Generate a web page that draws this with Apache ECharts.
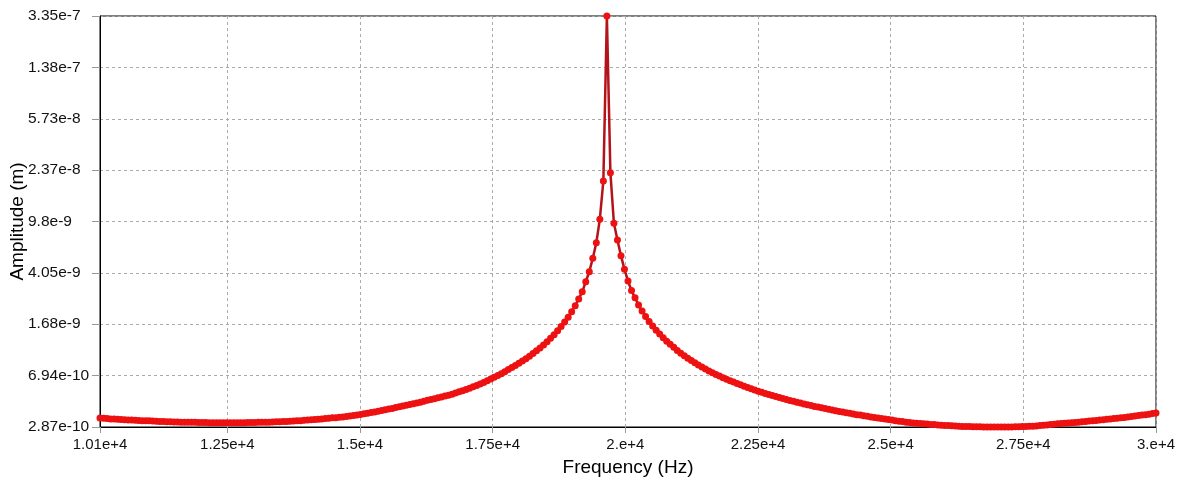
<!DOCTYPE html>
<html><head><meta charset="utf-8">
<script src="https://cdn.jsdelivr.net/npm/echarts@6/dist/echarts.min.js"></script>
<style>html,body{margin:0;padding:0;background:#fff}#c{width:1179px;height:484px}</style>
</head><body><div id="c"></div>
<script>
// Frequency sweep: 301 samples from freqStart to freqEnd
const freqStart = 10100;
const freqEnd = 30000;
// Amplitude (m), one value per sample
const amplitude = [
3.35e-10,3.33e-10,3.32e-10,3.30e-10,3.29e-10,3.28e-10,3.26e-10,3.25e-10,3.24e-10,3.23e-10,
3.22e-10,3.21e-10,3.20e-10,3.19e-10,3.19e-10,3.18e-10,3.17e-10,3.16e-10,3.15e-10,3.14e-10,
3.14e-10,3.13e-10,3.13e-10,3.12e-10,3.12e-10,3.11e-10,3.11e-10,3.11e-10,3.10e-10,3.10e-10,
3.10e-10,3.09e-10,3.09e-10,3.09e-10,3.09e-10,3.09e-10,3.09e-10,3.09e-10,3.09e-10,3.09e-10,
3.09e-10,3.09e-10,3.10e-10,3.10e-10,3.10e-10,3.11e-10,3.11e-10,3.12e-10,3.12e-10,3.13e-10,
3.14e-10,3.14e-10,3.15e-10,3.16e-10,3.17e-10,3.18e-10,3.19e-10,3.20e-10,3.22e-10,3.23e-10,
3.25e-10,3.27e-10,3.28e-10,3.30e-10,3.32e-10,3.33e-10,3.36e-10,3.37e-10,3.40e-10,3.41e-10,
3.44e-10,3.47e-10,3.50e-10,3.53e-10,3.56e-10,3.60e-10,3.64e-10,3.68e-10,3.72e-10,3.77e-10,
3.81e-10,3.86e-10,3.91e-10,3.95e-10,4.01e-10,4.06e-10,4.12e-10,4.17e-10,4.22e-10,4.28e-10,
4.34e-10,4.40e-10,4.47e-10,4.54e-10,4.60e-10,4.67e-10,4.74e-10,4.81e-10,4.88e-10,4.96e-10,
5.03e-10,5.14e-10,5.25e-10,5.36e-10,5.47e-10,5.59e-10,5.72e-10,5.86e-10,6.02e-10,6.17e-10,
6.36e-10,6.55e-10,6.74e-10,6.94e-10,7.17e-10,7.43e-10,7.71e-10,7.98e-10,8.27e-10,8.58e-10,
8.92e-10,9.29e-10,9.70e-10,1.014e-9,1.062e-9,1.116e-9,1.176e-9,1.242e-9,1.317e-9,1.402e-9,
1.499e-9,1.611e-9,1.741e-9,1.895e-9,2.080e-9,2.305e-9,2.587e-9,2.93e-9,3.48e-9,4.14e-9,
5.21e-9,6.81e-9,1.02e-8,1.97e-8,3.35e-7,2.27e-8,9.5e-9,7.14e-9,5.45e-9,4.31e-9,
3.53e-9,2.99e-9,2.64e-9,2.34e-9,2.11e-9,1.92e-9,1.76e-9,1.63e-9,1.51e-9,1.42e-9,
1.33e-9,1.25e-9,1.19e-9,1.13e-9,1.07e-9,1.02e-9,9.77e-10,9.37e-10,9.00e-10,8.65e-10,
8.33e-10,8.03e-10,7.77e-10,7.52e-10,7.30e-10,7.08e-10,6.89e-10,6.70e-10,6.53e-10,6.36e-10,
6.21e-10,6.06e-10,5.92e-10,5.79e-10,5.66e-10,5.54e-10,5.42e-10,5.31e-10,5.21e-10,5.11e-10,
5.02e-10,4.93e-10,4.84e-10,4.76e-10,4.68e-10,4.60e-10,4.53e-10,4.46e-10,4.39e-10,4.33e-10,
4.27e-10,4.21e-10,4.15e-10,4.09e-10,4.04e-10,3.99e-10,3.94e-10,3.89e-10,3.84e-10,3.80e-10,
3.75e-10,3.71e-10,3.67e-10,3.63e-10,3.59e-10,3.55e-10,3.52e-10,3.48e-10,3.45e-10,3.41e-10,
3.38e-10,3.35e-10,3.32e-10,3.29e-10,3.26e-10,3.23e-10,3.20e-10,3.17e-10,3.15e-10,3.12e-10,
3.10e-10,3.08e-10,3.06e-10,3.05e-10,3.03e-10,3.02e-10,3.00e-10,2.99e-10,2.97e-10,2.96e-10,
2.95e-10,2.94e-10,2.93e-10,2.92e-10,2.91e-10,2.90e-10,2.89e-10,2.89e-10,2.885e-10,2.88e-10,
2.877e-10,2.875e-10,2.873e-10,2.871e-10,2.87e-10,2.87e-10,2.87e-10,2.871e-10,2.873e-10,2.876e-10,
2.88e-10,2.884e-10,2.889e-10,2.895e-10,2.902e-10,2.91e-10,2.925e-10,2.94e-10,2.957e-10,2.976e-10,
2.997e-10,3.01e-10,3.03e-10,3.045e-10,3.06e-10,3.075e-10,3.09e-10,3.105e-10,3.12e-10,3.14e-10,
3.155e-10,3.175e-10,3.195e-10,3.215e-10,3.235e-10,3.255e-10,3.275e-10,3.295e-10,3.315e-10,3.34e-10,
3.36e-10,3.385e-10,3.41e-10,3.435e-10,3.46e-10,3.49e-10,3.52e-10,3.55e-10,3.58e-10,3.615e-10,
3.65e-10
];
const xTickValues = [10100,12500,15000,17500,20000,22500,25000,27500,30000];
const xTickLabels = ['1.01e+4','1.25e+4','1.5e+4','1.75e+4','2.e+4','2.25e+4','2.5e+4','2.75e+4','3.e+4'];
const yTickValues = [2.87e-10,6.94e-10,1.68e-9,4.05e-9,9.8e-9,2.37e-8,5.73e-8,1.38e-7,3.35e-7];
const yTickLabels = ['2.87e-10','6.94e-10','1.68e-9','4.05e-9','9.8e-9','2.37e-8','5.73e-8','1.38e-7','3.35e-7'];

const n = amplitude.length;
const data = amplitude.map((a, i) => [freqStart + i * (freqEnd - freqStart) / (n - 1), a]);

function nearest(v, vals, labels, useLog) {
  let best = 0, bd = Infinity;
  vals.forEach((t, i) => {
    const d = useLog ? Math.abs(Math.log(v) - Math.log(t)) : Math.abs(v - t);
    if (d < bd) { bd = d; best = i; }
  });
  return labels[best];
}

const font = 'Liberation Sans';
const chart = echarts.init(document.getElementById('c'), null, {renderer: 'canvas'});
chart.setOption({
  animation: false,
  backgroundColor: '#fff',
  grid: {left: 100, right: 23, top: 16, bottom: 57, show: true, borderColor: '#000', borderWidth: 1,
    containLabel: false, outerBoundsMode: 'none'},
  xAxis: {
    type: 'value', min: freqStart, max: freqEnd,
    name: 'Frequency (Hz)', nameLocation: 'middle', nameGap: 31, nameMoveOverlap: false,
    nameTextStyle: {fontFamily: font, fontSize: 19, color: '#000'},
    axisLine: {show: true, lineStyle: {color: '#000', width: 1}},
    axisTick: {show: true, customValues: xTickValues, length: 6, lineStyle: {color: '#999'}},
    axisLabel: {customValues: xTickValues, formatter: v => nearest(v, xTickValues, xTickLabels, false),
      fontFamily: font, fontSize: 15, color: '#111', margin: 10},
    splitLine: {show: true, lineStyle: {color: '#aaa', type: [3, 3], width: 1}}
  },
  yAxis: {
    type: 'log', logBase: 10, min: yTickValues[0], max: yTickValues[yTickValues.length - 1],
    name: 'Amplitude (m)', nameLocation: 'middle', nameGap: 73, nameRotate: 90, nameMoveOverlap: false,
    nameTextStyle: {fontFamily: font, fontSize: 19, color: '#000'},
    axisLine: {show: true, lineStyle: {color: '#000', width: 1}},
    axisTick: {show: true, customValues: yTickValues, length: 8, lineStyle: {color: '#999'}},
    axisLabel: {customValues: yTickValues, formatter: v => nearest(v, yTickValues, yTickLabels, true),
      fontFamily: font, fontSize: 15.5, color: '#111', margin: 72, align: 'left'},
    splitLine: {show: true, lineStyle: {color: '#aaa', type: [3, 3], width: 1}}
  },
  series: [{
    type: 'line', data: data, symbol: 'circle', symbolSize: 7, showSymbol: true, showAllSymbol: true,
    clip: false, lineStyle: {color: '#b3131b', width: 2.5}, itemStyle: {color: '#ee1111'}
  }]
});
</script>
</body></html>
